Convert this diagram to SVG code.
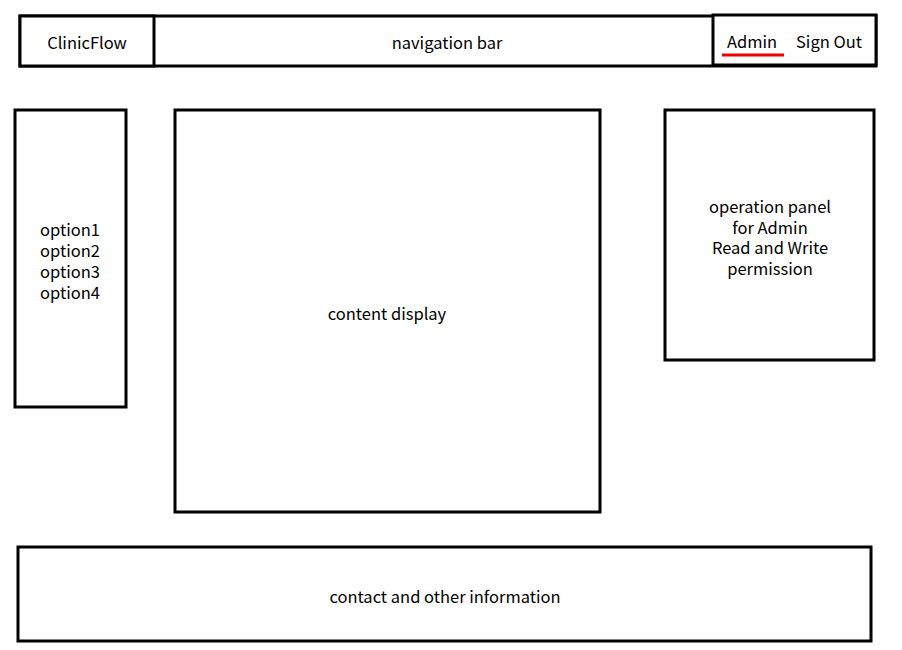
<svg xmlns="http://www.w3.org/2000/svg" width="902" height="650" viewBox="0 0 902 650">
<style>
.box{fill:#fff;stroke:#000;stroke-width:3}
.t{font-family:"Noto Sans CJK SC","Noto Sans",sans-serif;font-size:16.5px;fill:#000;text-anchor:middle;dominant-baseline:central}
</style>
<rect width="902" height="650" fill="#fff"/>
<g id="nav">
<rect class="box" x="20" y="16" width="856" height="50"/>
</g>
<g id="logo">
<rect class="box" x="20" y="16" width="134" height="50"/>
<text class="t" x="87" y="42">ClinicFlow</text>
</g>
<g id="navbar">
<text class="t" x="447" y="42">navigation bar</text>
</g>
<g id="user">
<rect class="box" x="713" y="15" width="163" height="50"/>
<text class="t" x="752" y="41">Admin</text>
<line x1="722" y1="55" x2="784" y2="55" stroke="#e00" stroke-width="3"/>
<text class="t" x="829" y="41">Sign Out</text>
</g>
<g id="sidebar">
<rect class="box" x="15" y="110" width="111" height="297"/>
<text class="t" x="70" y="229">option1</text>
<text class="t" x="70" y="250">option2</text>
<text class="t" x="70" y="271">option3</text>
<text class="t" x="70" y="292">option4</text>
</g>
<g id="content">
<rect class="box" x="175" y="110" width="425" height="402"/>
<text class="t" x="387" y="313">content display</text>
</g>
<g id="ops">
<rect class="box" x="665" y="110" width="209" height="250"/>
<text class="t" x="770" y="206">operation panel</text>
<text class="t" x="770" y="227">for Admin</text>
<text class="t" x="770" y="247">Read and Write</text>
<text class="t" x="770" y="268">permission</text>
</g>
<g id="footer">
<rect class="box" x="18" y="547" width="853" height="94"/>
<text class="t" x="445" y="596">contact and other information</text>
</g>
<g id="connectors"></g>
</svg>
